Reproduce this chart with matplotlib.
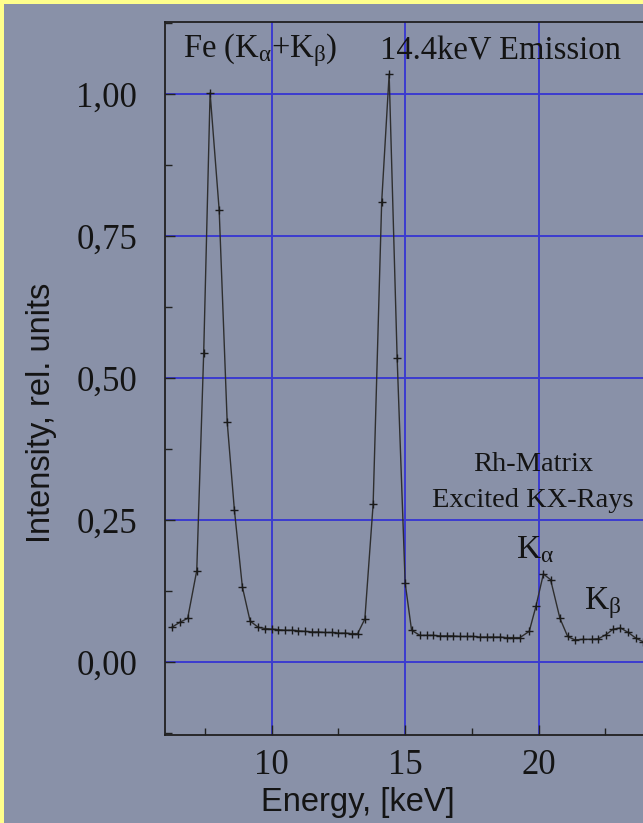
import matplotlib
matplotlib.use('Agg')
import matplotlib.pyplot as plt
from matplotlib.patches import Rectangle
from matplotlib.ticker import MultipleLocator

# ========================================================
# 1. 데이터
# ========================================================
energy = [6.25, 6.56, 6.85, 7.19, 7.45, 7.69, 8.03, 8.33, 8.60, 8.90,
          9.19, 9.50, 9.75, 10.0, 10.25, 10.5, 10.75, 11.0, 11.25, 11.5,
          11.75, 12.0, 12.25, 12.5, 12.75, 13.0, 13.22, 13.49, 13.8, 14.12,
          14.4, 14.7, 15.0, 15.24, 15.55, 15.8, 16.05, 16.3, 16.55, 16.8,
          17.05, 17.3, 17.55, 17.8, 18.05, 18.3, 18.55, 18.8, 19.05, 19.3,
          19.65, 19.9, 20.18, 20.45, 20.8, 21.09, 21.36, 21.67, 21.99, 22.24,
          22.52, 22.8, 23.07, 23.36, 23.65, 23.9, 24.2]
intensity = [0.061, 0.070, 0.077, 0.161, 0.544, 1.002, 0.796, 0.423, 0.268, 0.132,
             0.072, 0.061, 0.059, 0.058, 0.057, 0.056, 0.056, 0.055, 0.054, 0.053,
             0.053, 0.052, 0.052, 0.051, 0.051, 0.050, 0.050, 0.076, 0.278, 0.810,
             1.035, 0.535, 0.139, 0.056, 0.047, 0.047, 0.047, 0.046, 0.046, 0.046,
             0.045, 0.045, 0.045, 0.044, 0.044, 0.044, 0.044, 0.043, 0.043, 0.043,
             0.054, 0.098, 0.155, 0.145, 0.077, 0.045, 0.039, 0.040, 0.040, 0.041,
             0.048, 0.058, 0.060, 0.052, 0.042, 0.036, 0.032]

x_ticks = [10, 15, 20]
x_tick_labels = ['10', '15', '20']
y_ticks = [0.0, 0.25, 0.5, 0.75, 1.0]
y_tick_labels = ['0,00', '0,25', '0,50', '0,75', '1,00']

# ========================================================
# 2. 그림 설정
# ========================================================
bg = '#8991a8'
W, H = 643, 823
fig = plt.figure(figsize=(W / 100, H / 100), dpi=100, facecolor='#ffff8c')
# 노란 테두리 (왼쪽, 위쪽) 안쪽 회색 배경
fig.patches.append(Rectangle((4 / W, 0), 1, 1 - 4 / H, transform=fig.transFigure,
                             facecolor=bg, edgecolor='none', zorder=-10))

ax = fig.add_axes([165 / W, 88 / H, 507 / W, 713 / H])
ax.set_zorder(5)
ax.set_facecolor(bg)

ax.plot(energy, intensity, color='#2e2e2e', lw=1.0, marker='+', ms=6,
        mew=1.0, mec='#1a1a1a', zorder=3)

ax.set_xlim(6, 25)
ax.set_ylim(-0.1285, 1.127)

ax.set_xticks(x_ticks)
ax.set_xticklabels(x_tick_labels)
ax.set_yticks(y_ticks)
ax.set_yticklabels(y_tick_labels)
ax.xaxis.set_minor_locator(MultipleLocator(2.5))
ax.yaxis.set_minor_locator(MultipleLocator(0.125))

ax.grid(True, which='major', color='#3b3bd0', lw=1.4, zorder=1)
ax.set_axisbelow(True)

serif = ['Liberation Serif', 'DejaVu Serif']
for lab in ax.get_xticklabels() + ax.get_yticklabels():
    lab.set_family(serif)
    lab.set_fontsize(25)
    lab.set_color('#141414')
ax.tick_params(axis='both', which='both', direction='in', color='#222222')
ax.tick_params(axis='both', which='major', length=7, width=1.0)
ax.tick_params(axis='both', which='minor', length=5, width=1.0)
ax.tick_params(axis='x', which='major', pad=10)
ax.tick_params(axis='y', which='major', pad=20)

for side in ['left', 'bottom', 'top']:
    ax.spines[side].set_color('#202020')
    ax.spines[side].set_linewidth(1.3)
ax.spines['right'].set_visible(False)

ax.set_xlabel('Energy, [keV]', family='Liberation Sans', fontsize=23.5, color='#141414')
ax.xaxis.set_label_coords(0.381, -0.073)
ax.set_ylabel('Intensity, rel. units', family='Liberation Sans', fontsize=23.5,
              color='#141414', va='center')
ax.yaxis.set_label_coords(-0.243, 0.4516)

# 주석 텍스트 (그리스 문자는 직립체로)
txt = dict(family=serif, color='#141414')
ax.text(6.67, 1.078, r'Fe ($\mathregular{K_{α}}$+$\mathregular{K_{β}}$)', fontsize=23.5,
        ha='left', va='center', **txt)
ax.text(14.05, 1.075, '14.4keV Emission', fontsize=23.5, ha='left', va='center', **txt)
ax.text(19.78, 0.347, 'Rh-Matrix', fontsize=20.5, ha='center', va='center', **txt)
ax.text(19.78, 0.285, 'Excited KX-Rays', fontsize=20.5, ha='center', va='center', **txt)
ax.text(19.86, 0.197, r'$\mathregular{K_{α}}$', fontsize=24, ha='center', va='center', **txt)
ax.text(22.4, 0.104, r'$\mathregular{K_{β}}$', fontsize=24, ha='center', va='center', **txt)

fig.savefig('out.png', dpi=100, facecolor=fig.get_facecolor())
